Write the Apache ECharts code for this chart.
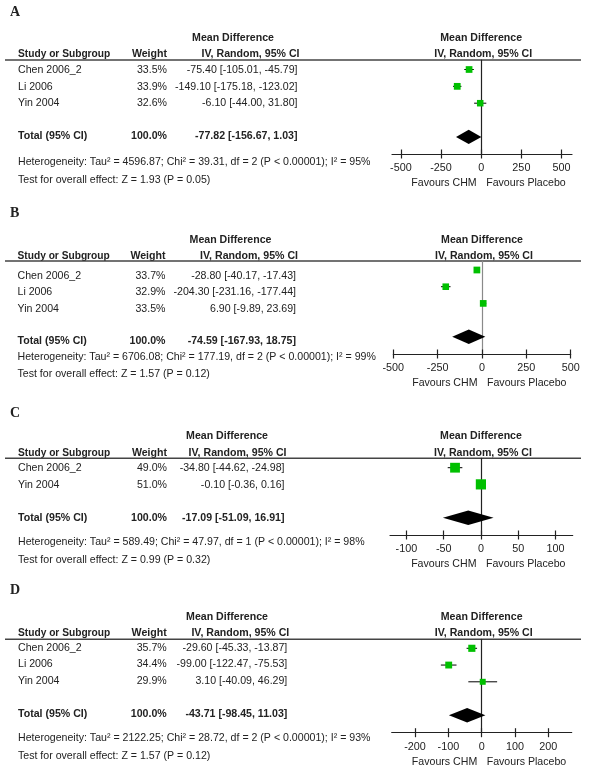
<!DOCTYPE html>
<html>
<head>
<meta charset="utf-8">
<script src="https://cdn.jsdelivr.net/npm/echarts@6/dist/echarts.min.js"></script>
<style>
  html, body { margin: 0; padding: 0; background: #fff; }
  #chart { width: 600px; height: 774px; }
</style>
</head>
<body>
<div id="chart"></div>
<script>
// ---- data ----
// A
const studiesA = ['Chen 2006_2', 'Li 2006', 'Yin 2004'];
const weightsA = [33.5, 33.9, 32.6];
const meanA = [-75.40, -149.10, -6.10];
const lowA = [-105.01, -175.18, -44.00];
const highA = [-45.79, -123.02, 31.80];
const totalA = [-77.82, -156.67, 1.03];
const ticksA = [-500, -250, 0, 250, 500];
const hetA = 'Heterogeneity: Tau² = 4596.87; Chi² = 39.31, df = 2 (P < 0.00001); I² = 95%';
const testA = 'Test for overall effect: Z = 1.93 (P = 0.05)';

// B
const studiesB = ['Chen 2006_2', 'Li 2006', 'Yin 2004'];
const weightsB = [33.7, 32.9, 33.5];
const meanB = [-28.80, -204.30, 6.90];
const lowB = [-40.17, -231.16, -9.89];
const highB = [-17.43, -177.44, 23.69];
const totalB = [-74.59, -167.93, 18.75];
const ticksB = [-500, -250, 0, 250, 500];
const hetB = 'Heterogeneity: Tau² = 6706.08; Chi² = 177.19, df = 2 (P < 0.00001); I² = 99%';
const testB = 'Test for overall effect: Z = 1.57 (P = 0.12)';

// C
const studiesC = ['Chen 2006_2', 'Yin 2004'];
const weightsC = [49.0, 51.0];
const meanC = [-34.80, -0.10];
const lowC = [-44.62, -0.36];
const highC = [-24.98, 0.16];
const totalC = [-17.09, -51.09, 16.91];
const ticksC = [-100, -50, 0, 50, 100];
const hetC = 'Heterogeneity: Tau² = 589.49; Chi² = 47.97, df = 1 (P < 0.00001); I² = 98%';
const testC = 'Test for overall effect: Z = 0.99 (P = 0.32)';

// D
const studiesD = ['Chen 2006_2', 'Li 2006', 'Yin 2004'];
const weightsD = [35.7, 34.4, 29.9];
const meanD = [-29.60, -99.00, 3.10];
const lowD = [-45.33, -122.47, -40.09];
const highD = [-13.87, -75.53, 46.29];
const totalD = [-43.71, -98.45, 11.03];
const ticksD = [-200, -100, 0, 100, 200];
const hetD = 'Heterogeneity: Tau² = 2122.25; Chi² = 28.72, df = 2 (P < 0.00001); I² = 93%';
const testD = 'Test for overall effect: Z = 1.57 (P = 0.12)';

// ---- layout (pixels) ----
const panels = [
    { letter: 'A', studies: studiesA, weights: weightsA, mean: meanA, low: lowA, high: highA, total: totalA, ticks: ticksA, het: hetA, test: testA,
      letterY: 12, mdY: 38, hdrY: 54, lineY: 60, rowY: 70, rowStep: 16.6, totalRow: 4, hetY: 162, testY: 180,
      studyX: 18, weightR: 167, effR: 297.5, mdX: 233,
      axisL: 392, axisR: 572, axisY: 154, xMin: -555, xMax: 565, plotRowY: 69.5, plotStep: 16.85, zeroColor: '#222' },
    { letter: 'B', studies: studiesB, weights: weightsB, mean: meanB, low: lowB, high: highB, total: totalB, ticks: ticksB, het: hetB, test: testB,
      letterY: 213, mdY: 240, hdrY: 256, lineY: 261, rowY: 276, rowStep: 16.3, totalRow: 4, hetY: 357, testY: 374.5,
      studyX: 17.5, weightR: 165.5, effR: 296, mdX: 230.5,
      axisL: 393.3, axisR: 570.7, axisY: 354, xMin: -500, xMax: 500, plotRowY: 270, plotStep: 16.7, zeroColor: '#8a8a8a' },
    { letter: 'C', studies: studiesC, weights: weightsC, mean: meanC, low: lowC, high: highC, total: totalC, ticks: ticksC, het: hetC, test: testC,
      letterY: 413, mdY: 436, hdrY: 452.7, lineY: 458.3, rowY: 468.3, rowStep: 16.6, totalRow: 3, hetY: 541.7, testY: 560,
      studyX: 18, weightR: 167, effR: 284.5, mdX: 227,
      axisL: 390, axisR: 572.7, axisY: 535, xMin: -122, xMax: 123, plotRowY: 467.7, plotStep: 16.67, zeroColor: '#222' },
    { letter: 'D', studies: studiesD, weights: weightsD, mean: meanD, low: lowD, high: highD, total: totalD, ticks: ticksD, het: hetD, test: testD,
      letterY: 590, mdY: 616.7, hdrY: 633.3, lineY: 639.3, rowY: 647.7, rowStep: 16.65, totalRow: 4, hetY: 738.3, testY: 756,
      studyX: 18, weightR: 166.7, effR: 287.3, mdX: 227,
      axisL: 391.7, axisR: 571.7, axisY: 732.7, xMin: -270, xMax: 270, plotRowY: 648.3, plotStep: 16.75, zeroColor: '#222' },
];

const FONT = '"Liberation Sans", Arial, sans-serif';
const FS = 10.6;
const TEXT = '#222';
const GREEN = '#00c000';

const fmt = v => v.toFixed(2);
const effLabel = (m, l, h) => `${fmt(m)} [${fmt(l)}, ${fmt(h)}]`;

function txt(text, x, y, opts = {}) {
    return {
        type: 'text', x, y, silent: true,
        style: {
            text,
            font: `${opts.bold ? 'bold ' : ''}${opts.size || FS}px ${opts.family || FONT}`,
            fill: TEXT,
            textAlign: opts.align || 'left',
            textVerticalAlign: 'middle',
        },
    };
}

const grids = [], xAxes = [], yAxes = [], series = [], graphics = [];

panels.forEach((p, i) => {
    const rowPx = r => p.rowY + r * p.rowStep;
    const zeroPx = p.axisL + (0 - p.xMin) / (p.xMax - p.xMin) * (p.axisR - p.axisL);

    // left table text
    graphics.push(txt(p.letter, 10, p.letterY, { bold: true, size: 14, family: '"Liberation Serif", "Times New Roman", serif' }));
    graphics.push(txt('Mean Difference', p.mdX, p.mdY, { bold: true, align: 'center' }));
    graphics.push(txt('Study or Subgroup', p.studyX, p.hdrY, { bold: true, size: 10.2 }));
    graphics.push(txt('Weight', p.weightR, p.hdrY, { bold: true, align: 'right' }));
    graphics.push(txt('IV, Random, 95% CI', p.effR + 2, p.hdrY, { bold: true, align: 'right' }));
    // right plot headers
    graphics.push(txt('Mean Difference', zeroPx, p.mdY, { bold: true, align: 'center' }));
    graphics.push(txt('IV, Random, 95% CI', zeroPx + 2, p.hdrY, { bold: true, align: 'center' }));

    p.studies.forEach((s, j) => {
        graphics.push(txt(s, p.studyX, rowPx(j)));
        graphics.push(txt(p.weights[j].toFixed(1) + '%', p.weightR, rowPx(j), { align: 'right' }));
        graphics.push(txt(effLabel(p.mean[j], p.low[j], p.high[j]), p.effR, rowPx(j), { align: 'right' }));
    });
    const ty = rowPx(p.totalRow);
    graphics.push(txt('Total (95% CI)', p.studyX, ty, { bold: true }));
    graphics.push(txt('100.0%', p.weightR, ty, { bold: true, align: 'right' }));
    graphics.push(txt(effLabel(p.total[0], p.total[1], p.total[2]), p.effR, ty, { bold: true, align: 'right' }));
    graphics.push(txt(p.het, p.studyX, p.hetY));
    graphics.push(txt(p.test, p.studyX, p.testY));

    // header rule across the whole width
    graphics.push({
        type: 'line', silent: true,
        shape: { x1: 5, y1: p.lineY, x2: 581, y2: p.lineY },
        style: { stroke: '#444', lineWidth: 1.4 },
    });

    graphics.push(txt('Favours CHM', zeroPx - 4.5, p.axisY + 29, { align: 'right' }));
    graphics.push(txt('Favours Placebo', zeroPx + 5, p.axisY + 29));

    // forest plot grid
    grids.push({ left: p.axisL, top: p.lineY, width: p.axisR - p.axisL, height: p.axisY - p.lineY, outerBoundsMode: 'none' });
    const axisCommon = {
        type: 'value', gridIndex: i, position: 'bottom', min: p.xMin, max: p.xMax,
        splitLine: { show: false },
    };
    xAxes.push(Object.assign({}, axisCommon, {
        axisLine: { show: true, onZero: false, lineStyle: { color: '#222', width: 1.2 } },
        axisTick: { show: true, inside: false, length: 4.5, customValues: p.ticks, lineStyle: { color: '#222', width: 1.2 } },
        axisLabel: { show: true, customValues: p.ticks, margin: 8.5, color: TEXT, fontSize: 10.8, fontFamily: FONT },
    }));
    xAxes.push(Object.assign({}, axisCommon, {
        axisLine: { show: false, onZero: false },
        axisTick: { show: true, inside: true, length: 4.5, customValues: p.ticks, lineStyle: { color: '#222', width: 1.2 } },
        axisLabel: { show: false },
    }));
    yAxes.push({
        type: 'value', gridIndex: i, inverse: true,
        min: (p.lineY - p.plotRowY) / p.plotStep,
        max: (p.axisY - p.plotRowY) / p.plotStep,
        axisLine: { show: true, onZero: true, lineStyle: { color: p.zeroColor, width: 1.2 } },
        axisTick: { show: false }, axisLabel: { show: false }, splitLine: { show: false },
    });

    const xi = i * 2;
    // confidence intervals
    series.push({
        type: 'custom', xAxisIndex: xi, yAxisIndex: i, silent: true,
        data: p.studies.map((s, j) => [p.low[j], p.high[j], j]),
        encode: { x: [0, 1], y: 2 },
        renderItem: (params, api) => {
            const a = api.coord([api.value(0), api.value(2)]);
            const b = api.coord([api.value(1), api.value(2)]);
            return { type: 'line', shape: { x1: a[0], y1: a[1], x2: b[0], y2: b[1] }, style: { stroke: '#000', lineWidth: 1 } };
        },
    });
    // study squares, size by weight
    series.push({
        type: 'scatter', xAxisIndex: xi, yAxisIndex: i, silent: true,
        symbol: 'rect',
        symbolSize: v => v[2] * 0.2,
        itemStyle: { color: GREEN, opacity: 1 },
        data: p.studies.map((s, j) => [p.mean[j], j, p.weights[j]]),
        z: 3,
    });
    // pooled diamond
    series.push({
        type: 'custom', xAxisIndex: xi, yAxisIndex: i, silent: true,
        data: [[p.total[0], p.total[1], p.total[2], p.totalRow]],
        encode: { x: [0, 1, 2], y: 3 },
        renderItem: (params, api) => {
            const row = api.value(3);
            const c = api.coord([api.value(0), row]);
            const l = api.coord([api.value(1), row]);
            const r = api.coord([api.value(2), row]);
            const h = 7.2;
            return {
                type: 'polygon',
                shape: { points: [[l[0], c[1]], [c[0], c[1] - h], [r[0], c[1]], [c[0], c[1] + h]] },
                style: { fill: '#000' },
            };
        },
    });
});

const chart = echarts.init(document.getElementById('chart'), null, { renderer: 'canvas' });
chart.setOption({
    animation: false,
    backgroundColor: '#fff',
    grid: grids,
    xAxis: xAxes,
    yAxis: yAxes,
    series,
    graphic: graphics,
});
</script>
</body>
</html>
